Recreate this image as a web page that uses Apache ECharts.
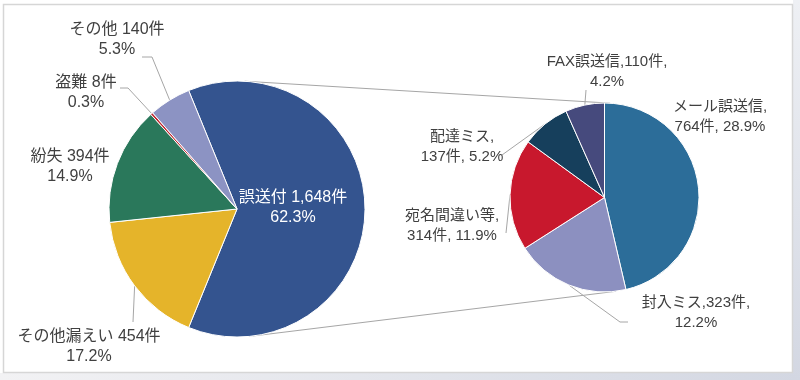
<!DOCTYPE html>
<html><head><meta charset="utf-8">
<script src="https://cdn.jsdelivr.net/npm/echarts@6/dist/echarts.min.js"></script>
<style>html,body{margin:0;padding:0;background:#fff}#c{width:800px;height:380px}</style>
</head><body><div id="c"></div>
<script>
// ---- data ----
const mainCategories = ['誤送付', 'その他漏えい', '紛失', '盗難', 'その他'];
const mainValues = [1648, 454, 394, 8, 140];
const subCategories = ['メール誤送信', '封入ミス', '宛名間違い等', '配達ミス', 'FAX誤送信'];
const subValues = [764, 323, 314, 137, 110];

// ---- styles / layout ----
const mainColors = ['#34548f', '#e5b42a', '#2a785b', '#c0262d', '#8c93c3'];
const subColors = ['#2c6d99', '#8c90c0', '#c8182d', '#163f5c', '#464a7d'];
const L = { cx1: 237, cy1: 209, r1: 128, cx2: 604.5, cy2: 197.5, r2: 94.5 };
const mainLabelPos = [[293, 208], [89, 347], [70, 167], [86, 93], [117, 40]];
const mainLineEnd = [null, [133, 322], null, [120, 88], [142, 57]];
const mainElbow = [0, 0, 0, 8, 10];
const subLabelPos = [[720, 117], [696, 313], [452, 226], [462, 147], [607, 72]];
const subLineEnd = [null, [628, 322], [506, 233], [502, 155], [586, 90]];
const subElbow = [0, -8, 0, 0, 0];
const subBreakAfterName = [true, false, true, true, false];
const FONT = "'Liberation Sans','Noto Sans CJK JP',sans-serif";
const TXT = '#404040';
const LINE = '#a6a6a6';

const total = mainValues.reduce((a, b) => a + b, 0);
const pct = v => (v / total * 100).toFixed(1) + '%';
const fmt = v => v.toLocaleString('en-US');

function midPoint(values, i, cx, cy, r, startDeg) {
  const sum = values.reduce((a, b) => a + b, 0);
  let before = 0; for (let k = 0; k < i; k++) before += values[k];
  const ang = (startDeg - (before + values[i] / 2) / sum * 360) * Math.PI / 180;
  return [cx + r * Math.cos(ang), cy - r * Math.sin(ang)];
}

const mainStart = mainValues[0] / total * 360 / 2;
const subStart = 90;

function makeLayout(posArr, endArr, elbowArr, values, cx, cy, r, start) {
  return function (params) {
    const i = params.dataIndex;
    const o = { x: posArr[i][0], y: posArr[i][1], align: 'center', verticalAlign: 'middle' };
    const end = endArr[i];
    if (end) {
      let p0 = params.labelLinePoints && params.labelLinePoints[0];
      if (!p0) p0 = midPoint(values, i, cx, cy, r, start);
      const mid = [end[0] + elbowArr[i], end[1]];
      o.labelLinePoints = [p0, mid, end];
    }
    return o;
  };
}

function tangents() {
  const dx = L.cx2 - L.cx1, dy = L.cy2 - L.cy1;
  const D = Math.hypot(dx, dy);
  const th = Math.atan2(dy, dx);
  const a = Math.acos((L.r1 - L.r2) / D);
  return [th - a, th + a].map(n => {
    const nx = Math.cos(n), ny = Math.sin(n);
    return [L.cx1 + L.r1 * nx, L.cy1 + L.r1 * ny, L.cx2 + L.r2 * nx, L.cy2 + L.r2 * ny];
  });
}
const tg = tangents();

const chart = echarts.init(document.getElementById('c'), null, { renderer: 'canvas' });
chart.setOption({
  animation: false,
  backgroundColor: '#ffffff',
  graphic: [
    { type: 'rect', z: 0, silent: true, shape: { x: 0, y: 373, width: 800, height: 7 },
      style: { fill: new echarts.graphic.LinearGradient(0, 0, 1, 0, [{ offset: 0, color: '#f2f2f4' }, { offset: 1, color: '#d3d7e2' }]) } },
    { type: 'rect', z: 0, silent: true, shape: { x: 793, y: 0, width: 7, height: 380 },
      style: { fill: new echarts.graphic.LinearGradient(0, 0, 0, 1, [{ offset: 0, color: '#eef0f4' }, { offset: 1, color: '#d3d7e2' }]) } },
    { type: 'rect', z: 1, silent: true, shape: { x: 3.5, y: 4.5, width: 789, height: 368 },
      style: { fill: '#ffffff', stroke: '#d6d6d6', lineWidth: 1.5 } },
    ...tg.map(t => ({ type: 'line', z: 2, silent: true, shape: { x1: t[0], y1: t[1], x2: t[2], y2: t[3] },
      style: { stroke: LINE, lineWidth: 1 } }))
  ],
  series: [
    {
      type: 'pie', z: 3, silent: true, center: [L.cx1, L.cy1], radius: [0, L.r1],
      startAngle: mainStart, clockwise: true, avoidLabelOverlap: false,
      itemStyle: { borderColor: '#ffffff', borderWidth: 1 },
      label: {
        show: true, position: 'outside', fontFamily: FONT, fontSize: 16, lineHeight: 20, color: TXT,
        formatter: p => p.name + ' ' + fmt(p.value) + '件\n' + pct(p.value)
      },
      labelLine: { show: true, lineStyle: { color: LINE, width: 1 } },
      labelLayout: makeLayout(mainLabelPos, mainLineEnd, mainElbow, mainValues, L.cx1, L.cy1, L.r1, mainStart),
      emphasis: { disabled: true },
      data: mainCategories.map((n, i) => ({
        name: n, value: mainValues[i], itemStyle: { color: mainColors[i] },
        label: i === 0 ? { color: '#ffffff' } : {},
        labelLine: { show: !!mainLineEnd[i] }
      }))
    },
    {
      type: 'pie', z: 3, silent: true, center: [L.cx2, L.cy2], radius: [0, L.r2],
      startAngle: subStart, clockwise: true, avoidLabelOverlap: false,
      itemStyle: { borderColor: '#ffffff', borderWidth: 1 },
      label: {
        show: true, position: 'outside', fontFamily: FONT, fontSize: 15, lineHeight: 20, color: TXT,
        formatter: p => {
          const i = p.dataIndex;
          return subBreakAfterName[i]
            ? p.name + ',\n' + fmt(p.value) + '件, ' + pct(p.value)
            : p.name + ',' + fmt(p.value) + '件,\n' + pct(p.value);
        }
      },
      labelLine: { show: true, lineStyle: { color: LINE, width: 1 } },
      labelLayout: makeLayout(subLabelPos, subLineEnd, subElbow, subValues, L.cx2, L.cy2, L.r2, subStart),
      emphasis: { disabled: true },
      data: subCategories.map((n, i) => ({
        name: n, value: subValues[i], itemStyle: { color: subColors[i] },
        labelLine: { show: !!subLineEnd[i] }
      }))
    }
  ]
});
</script></body></html>
